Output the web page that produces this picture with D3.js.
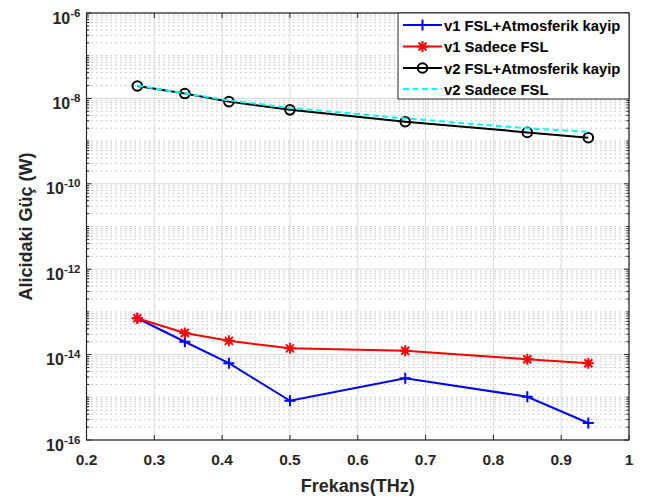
<!DOCTYPE html>
<html>
<head>
<meta charset="utf-8">
<script src="https://cdn.jsdelivr.net/npm/d3@7"></script>
<style>
  html, body { margin: 0; padding: 0; background: #ffffff; }
  svg { display: block; font-family: "Liberation Sans", Arial, sans-serif; }
</style>
</head>
<body>
<svg id="chart" width="646" height="501"></svg>
<script>
// ---- data ----
const freq = [0.275, 0.345, 0.41, 0.5, 0.67, 0.85, 0.94];
const v1Atm = [7.1e-14, 2.0e-14, 6.3e-15, 8.3e-16, 2.8e-15, 1.03e-15, 2.5e-16];
const v1FSL = [7.1e-14, 3.2e-14, 2.1e-14, 1.4e-14, 1.23e-14, 7.8e-15, 6.3e-15];
const v2Atm = [1.95e-8, 1.3e-8, 8.4e-9, 5.4e-9, 2.85e-9, 1.6e-9, 1.2e-9];
const v2FSL = [2.0e-8, 1.3e-8, 9.0e-9, 6.0e-9, 3.4e-9, 2.0e-9, 1.65e-9];
const seriesNames = ["v1 FSL+Atmosferik kayip", "v1 Sadece FSL", "v2 FSL+Atmosferik kayip", "v2 Sadece FSL"];
const xTicks = [0.2, 0.3, 0.4, 0.5, 0.6, 0.7, 0.8, 0.9, 1];
const xTickLabels = ["0.2", "0.3", "0.4", "0.5", "0.6", "0.7", "0.8", "0.9", "1"];
const yExponents = [-16, -14, -12, -10, -8, -6];
const xLabel = "Frekans(THz)";
const yLabel = "Alicidaki Güç (W)";

// ---- layout ----
const L = 86.5, R = 629, T = 13, B = 440;
const svg = d3.select("#chart");
const axisColor = "#262626";

const x = d3.scaleLinear().domain([0.2, 1]).range([L, R]);
const y = d3.scaleLog().domain([1e-16, 1e-6]).range([B, T]);

const yMajor = yExponents.map(e => Math.pow(10, e));
const yMinor = [];
for (let e = -16; e < -6; e++) {
  for (let m = 1; m <= 9; m++) {
    const v = m * Math.pow(10, e);
    if (m === 1 && yExponents.includes(e)) continue;
    yMinor.push(v);
  }
}

// ---- grids ----
const gGrid = svg.append("g");
gGrid.append("g").selectAll("line").data(yMinor).join("line")
  .attr("x1", L).attr("x2", R)
  .attr("y1", d => y(d)).attr("y2", d => y(d))
  .attr("stroke", "#bdbdbd").attr("stroke-width", 1)
  .attr("stroke-dasharray", "1.5,3.3");
gGrid.append("g").selectAll("line").data(yMajor).join("line")
  .attr("x1", L).attr("x2", R)
  .attr("y1", d => y(d)).attr("y2", d => y(d))
  .attr("stroke", "#d9d9d9").attr("stroke-width", 1);
gGrid.append("g").selectAll("line").data(xTicks).join("line")
  .attr("x1", d => x(d)).attr("x2", d => x(d))
  .attr("y1", T).attr("y2", B)
  .attr("stroke", "#d9d9d9").attr("stroke-width", 1);

// ---- series ----
const colors = ["#0000ff", "#ff0000", "#000000", "#00ffff"];
const allSeries = [v1Atm, v1FSL, v2Atm, v2FSL];
const markers = ["plus", "star", "circle", "none"];
const dashes = [null, null, null, "6,3.5"];

const line = d3.line().x(d => x(d[0])).y(d => y(d[1]));

function drawMarker(g, type, cx, cy, color) {
  if (type === "plus") {
    g.append("path").attr("d", `M${cx-5.5},${cy}H${cx+5.5}M${cx},${cy-5.5}V${cy+5.5}`)
      .attr("stroke", color).attr("stroke-width", 2).attr("fill", "none");
  } else if (type === "star") {
    const a = 5.5, b = 4;
    g.append("path").attr("d",
      `M${cx-a},${cy}H${cx+a}M${cx},${cy-a}V${cy+a}M${cx-b},${cy-b}L${cx+b},${cy+b}M${cx-b},${cy+b}L${cx+b},${cy-b}`)
      .attr("stroke", color).attr("stroke-width", 2).attr("fill", "none");
  } else if (type === "circle") {
    g.append("circle").attr("cx", cx).attr("cy", cy).attr("r", 4.8)
      .attr("stroke", color).attr("stroke-width", 2).attr("fill", "none");
  }
}

const gData = svg.append("g");
allSeries.forEach((vals, i) => {
  const pts = freq.map((f, j) => [f, vals[j]]);
  const g = gData.append("g");
  g.append("path").attr("d", line(pts))
    .attr("fill", "none").attr("stroke", colors[i]).attr("stroke-width", 2)
    .attr("stroke-dasharray", dashes[i]);
  pts.forEach(p => drawMarker(g, markers[i], x(p[0]), y(p[1]), colors[i]));
});

// ---- axes box & ticks ----
const gAx = svg.append("g");
gAx.append("rect").attr("x", L).attr("y", T).attr("width", R - L).attr("height", B - T)
  .attr("fill", "none").attr("stroke", axisColor).attr("stroke-width", 1.2);

gAx.append("g").selectAll("line").data(xTicks).join("line")
  .attr("x1", d => x(d)).attr("x2", d => x(d)).attr("y1", B).attr("y2", B - 5)
  .attr("stroke", axisColor).attr("stroke-width", 1);
gAx.append("g").selectAll("line").data(xTicks).join("line")
  .attr("x1", d => x(d)).attr("x2", d => x(d)).attr("y1", T).attr("y2", T + 5)
  .attr("stroke", axisColor).attr("stroke-width", 1);
[[L, 5], [R, -5]].forEach(([xx, len]) => {
  gAx.append("g").selectAll("line").data(yMajor).join("line")
    .attr("x1", xx).attr("x2", xx + len).attr("y1", d => y(d)).attr("y2", d => y(d))
    .attr("stroke", axisColor).attr("stroke-width", 1);
  gAx.append("g").selectAll("line").data(yMinor).join("line")
    .attr("x1", xx).attr("x2", xx + len * 0.55).attr("y1", d => y(d)).attr("y2", d => y(d))
    .attr("stroke", axisColor).attr("stroke-width", 1);
});

// x tick labels
gAx.append("g").selectAll("text").data(xTicks).join("text")
  .attr("x", d => x(d)).attr("y", B + 25)
  .attr("text-anchor", "middle")
  .attr("font-size", 15.5).attr("font-weight", "bold").attr("fill", axisColor)
  .text((d, i) => xTickLabels[i]);

// y tick labels 10^e
const yl = gAx.append("g").selectAll("text").data(yExponents).join("text")
  .attr("x", L - 6).attr("y", d => y(Math.pow(10, d)) + 10.5)
  .attr("text-anchor", "end")
  .attr("font-weight", "bold").attr("fill", axisColor);
yl.append("tspan").attr("font-size", 16).text("10");
yl.append("tspan").attr("font-size", 11.5).attr("dy", -7).text(d => String(d));

// axis labels
svg.append("text").attr("x", (L + R) / 2).attr("y", 492)
  .attr("text-anchor", "middle").attr("font-size", 18).attr("font-weight", "bold")
  .attr("fill", axisColor).text(xLabel);
svg.append("text").attr("transform", `translate(32,${(T + B) / 2}) rotate(-90)`)
  .attr("text-anchor", "middle").attr("font-size", 18).attr("font-weight", "bold")
  .attr("fill", axisColor).text(yLabel);

// ---- legend ----
const lg = svg.append("g");
const lgX = 398, lgY = 13, lgW = R - 398, lgH = 86;
lg.append("rect").attr("x", lgX).attr("y", lgY).attr("width", lgW).attr("height", lgH)
  .attr("fill", "#ffffff").attr("stroke", axisColor).attr("stroke-width", 1);
const rowY = [25, 46.5, 68, 89];
seriesNames.forEach((name, i) => {
  const yy = rowY[i];
  lg.append("line").attr("x1", 403).attr("x2", 442).attr("y1", yy).attr("y2", yy)
    .attr("stroke", colors[i]).attr("stroke-width", 2).attr("stroke-dasharray", dashes[i]);
  drawMarker(lg, markers[i], 422.5, yy, colors[i]);
  lg.append("text").attr("x", 444).attr("y", yy + 5.5)
    .attr("font-size", 14.8).attr("font-weight", "bold").attr("fill", "#000000")
    .text(name);
});
</script>
</body>
</html>
